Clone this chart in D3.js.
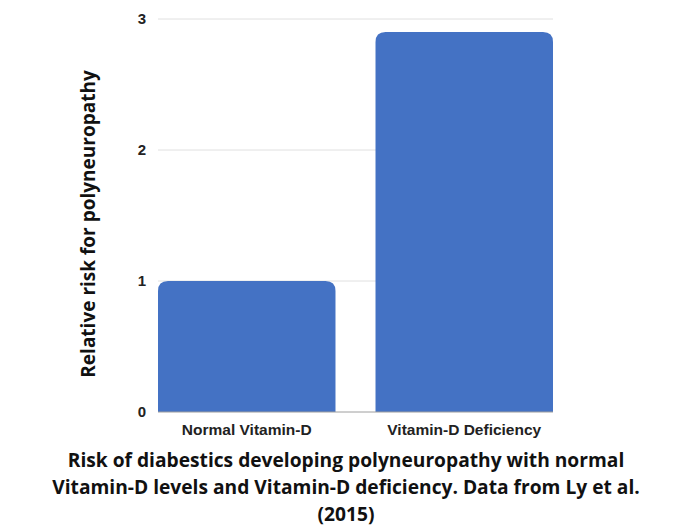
<!DOCTYPE html>
<html><head><meta charset="utf-8">
<script src="https://cdn.jsdelivr.net/npm/d3@7"></script>
<style>body{margin:0;background:#fff}</style>
</head><body>
<svg id="c" width="700" height="525"></svg>
<script>
const categories = ["Normal Vitamin-D", "Vitamin-D Deficiency"];
const values = [1.0, 2.9];
const yTicks = [0, 1, 2, 3];
const titleLines = ["Risk of diabestics developing polyneuropathy with normal",
  "Vitamin-D levels and Vitamin-D deficiency. Data from Ly et al.", "(2015)"];
const yLabel = "Relative risk for polyneuropathy";

const svg = d3.select("#c");
const m = {l: 158, r: 147, t: 19, b: 113};
const W = 700, H = 525;
const x = d3.scaleBand().domain(categories).range([m.l, W - m.r]).paddingInner(0.184).paddingOuter(0);
const y = d3.scaleLinear().domain([0, 3]).range([H - m.b, m.t]);

// gridlines
svg.append("g").selectAll("line").data(yTicks.filter(d => d > 0)).join("line")
  .attr("x1", m.l).attr("x2", W - m.r).attr("y1", d => y(d)).attr("y2", d => y(d))
  .attr("stroke", "#e0e0e0").attr("stroke-width", 1);

// bars with rounded top
const rr = 10;
svg.append("g").selectAll("path").data(values).join("path")
  .attr("fill", "#4472c4")
  .attr("d", (d, i) => {
    const x0 = x(categories[i]), x1 = x0 + x.bandwidth(), y0 = y(0), y1 = y(d);
    return `M${x0},${y0}V${y1 + rr}Q${x0},${y1} ${x0 + rr},${y1}H${x1 - rr}Q${x1},${y1} ${x1},${y1 + rr}V${y0}Z`;
  });

// baseline
svg.append("line").attr("x1", m.l).attr("x2", W - m.r).attr("y1", y(0)).attr("y2", y(0))
  .attr("stroke", "#9e9e9e").attr("stroke-width", 1);

// y tick labels
svg.append("g").selectAll("text").data(yTicks).join("text")
  .attr("x", 146).attr("y", d => y(d)).attr("dy", "0.35em")
  .attr("text-anchor", "end")
  .style("font-family", "'Liberation Sans', Arial, sans-serif").style("font-weight", "bold")
  .style("font-size", "15px").attr("fill", "#222")
  .text(d => d);

// x labels
svg.append("g").selectAll("text").data(categories).join("text")
  .attr("x", d => x(d) + x.bandwidth() / 2).attr("y", 430).attr("dy", "0.35em")
  .attr("text-anchor", "middle")
  .style("font-family", "'Liberation Sans', Arial, sans-serif").style("font-weight", "bold")
  .style("font-size", "15.5px").attr("fill", "#222")
  .text(d => d);

// y axis label
svg.append("text")
  .attr("transform", `translate(88,224) rotate(-90)`)
  .attr("dy", "0.35em").attr("text-anchor", "middle")
  .style("font-family", "'Open Sans', sans-serif").style("font-weight", "bold")
  .style("font-size", "19px").attr("fill", "#111")
  .text(yLabel);

// title
svg.append("g").selectAll("text").data(titleLines).join("text")
  .attr("x", 346).attr("y", (d, i) => 460 + i * 27).attr("dy", "0.35em")
  .attr("text-anchor", "middle")
  .style("font-family", "'Open Sans', sans-serif").style("font-weight", "bold")
  .style("font-size", "19.2px").attr("fill", "#111")
  .text(d => d);
</script>
</body></html>
